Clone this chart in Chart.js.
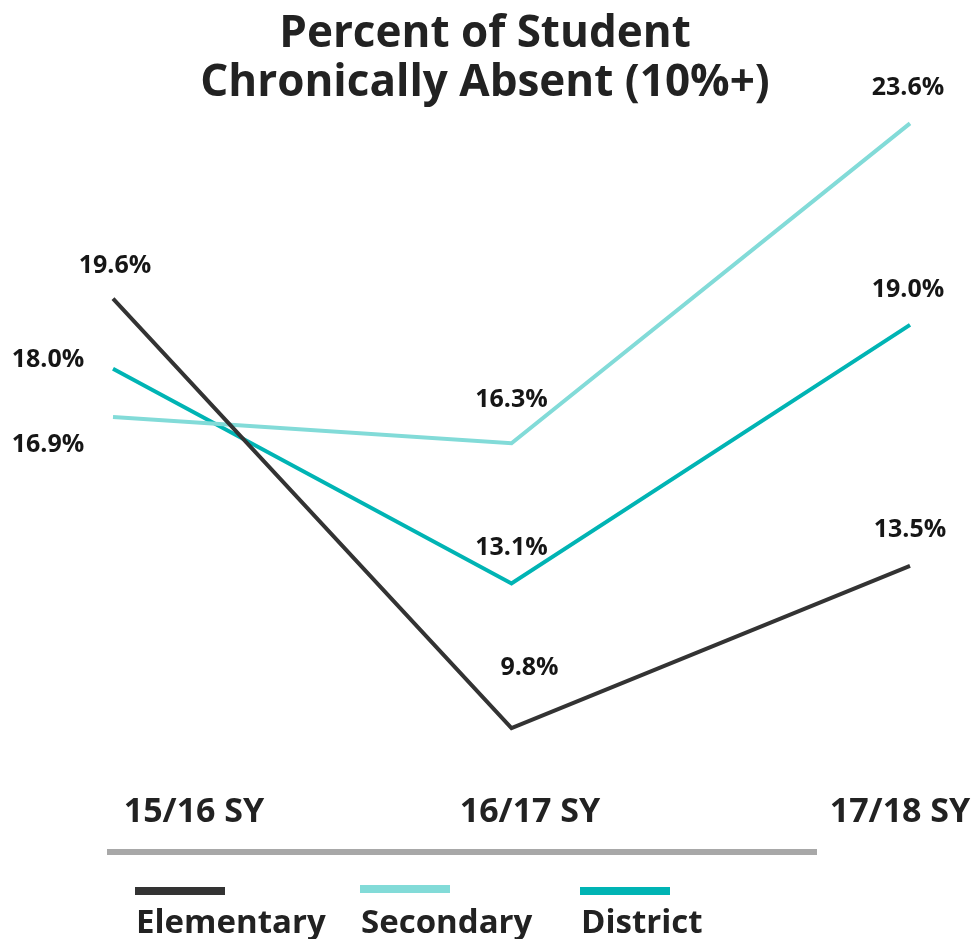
<!DOCTYPE html>
<html>
<head>
<meta charset="utf-8">
<script src="https://cdn.jsdelivr.net/npm/chart.js@4.4.0/dist/chart.umd.min.js"></script>
<style>
  html, body { margin: 0; padding: 0; background: #ffffff; }
  #wrap { width: 971px; height: 939px; position: relative; }
</style>
</head>
<body>
<div id="wrap"><canvas id="c" width="971" height="939"></canvas></div>
<script>
// ---- data ----
const titleLines = ["Percent of Student", "Chronically Absent (10%+)"];
const categories = ["15/16 SY", "16/17 SY", "17/18 SY"];
const elementary = [19.6, 9.8, 13.5];
const secondary = [16.9, 16.3, 23.6];
const district = [18.0, 13.1, 19.0];
const seriesNames = ["Elementary", "Secondary", "District"];

// ---- styles ----
const colors = ["#333333", "#82dbd8", "#00b4b4"];
const FONT = "'Open Sans', 'Noto Sans', sans-serif";
const TEXT = "#222222";
// label offsets (dx, dy) from point, per series
const labelOffsets = [
  [[2, -33], [18, -60], [0, -36]],
  [[-65, 28], [0, -43], [-2, -35]],
  [[-65, -9], [0, -36], [-2, -35]]
];
const catLabelX = [194, 530, 900];

const decor = {
  id: 'decor',
  afterDraw(chart) {
    const ctx = chart.ctx;
    ctx.save();
    ctx.fillStyle = TEXT;
    // title
    ctx.font = "bold 44px " + FONT;
    ctx.textAlign = "center";
    ctx.textBaseline = "alphabetic";
    ctx.fillText(titleLines[0], 485, 47);
    ctx.fillText(titleLines[1], 485, 96);
    // data labels
    ctx.fillStyle = "#161616";
    ctx.font = "bold 25px " + FONT;
    ctx.textBaseline = "middle";
    chart.data.datasets.forEach((ds, di) => {
      const meta = chart.getDatasetMeta(di);
      meta.data.forEach((pt, i) => {
        const o = labelOffsets[di][i];
        ctx.fillText(ds.data[i].toFixed(1) + "%", pt.x + o[0], pt.y + o[1]);
      });
    });
    // category labels
    ctx.fillStyle = TEXT;
    ctx.font = "bold 34px " + FONT;
    ctx.textBaseline = "alphabetic";
    categories.forEach((c, i) => ctx.fillText(c, catLabelX[i], 822));
    // axis bar
    ctx.fillStyle = "#a8a8a8";
    ctx.fillRect(107, 849, 710, 6);
    // legend
    const legX = [135, 360, 580];
    const legY = [887, 885, 887];
    ctx.textAlign = "left";
    ctx.font = "bold 33px " + FONT;
    seriesNames.forEach((n, i) => {
      ctx.fillStyle = colors[i];
      ctx.fillRect(legX[i], legY[i], 90, 8);
      ctx.fillStyle = TEXT;
      ctx.fillText(n, legX[i] + 1, 933);
    });
    ctx.restore();
  }
};

new Chart(document.getElementById('c'), {
  type: 'line',
  data: {
    labels: categories,
    datasets: [
      { label: seriesNames[0], data: elementary, borderColor: colors[0] },
      { label: seriesNames[1], data: secondary, borderColor: colors[1] },
      { label: seriesNames[2], data: district, borderColor: colors[2] }
    ].map(d => Object.assign(d, { borderWidth: 4, pointRadius: 0, tension: 0, fill: false, borderCapStyle: 'butt' }))
  },
  options: {
    responsive: false,
    animation: false,
    layout: { padding: { left: 113, right: 61, top: 62, bottom: 132 } },
    plugins: { legend: { display: false }, title: { display: false }, tooltip: { enabled: false } },
    scales: {
      x: { display: false, offset: false },
      y: { display: false, min: 8, max: 25 }
    }
  },
  plugins: [decor]
});
</script>
</body>
</html>
